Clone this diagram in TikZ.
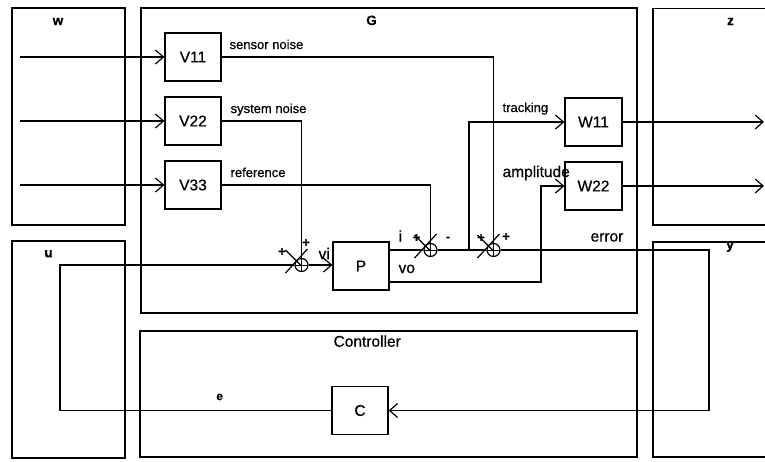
\documentclass[tikz,border=0pt]{standalone}
\usepackage{fontspec}
\setmainfont{Liberation Sans}[FakeBold=0.6]
\usetikzlibrary{arrows.meta,calc}
\begin{document}
\begin{tikzpicture}[x=1pt,y=-1pt,line width=1.2pt,
  frame/.style={draw,line width=1.3pt,anchor=north west,inner sep=0pt,outer sep=0pt},
  block/.style={draw,line width=1.3pt,minimum width=56pt,minimum height=48pt,inner sep=0pt,font=\fontsize{15.5}{16}\selectfont},
  sumj/.style={draw,circle,minimum size=13pt,inner sep=0pt,
    path picture={\draw[line width=1pt] (path picture bounding box.north) -- (path picture bounding box.south)
      (path picture bounding box.west) -- (path picture bounding box.east);}},
  arr/.style={-{Straight Barb[length=8pt,width=14pt]}},
  sig/.style={font=\fontsize{13}{13}\selectfont,inner sep=0pt,anchor=base west},
  bigsig/.style={font=\fontsize{15.5}{16}\selectfont,inner sep=0pt,anchor=base west},
  boxlabel/.style={font=\bfseries\fontsize{13.5}{14}\selectfont,inner sep=0pt,anchor=base},
  signmark/.style={font=\bfseries\fontsize{13}{13}\selectfont,inner sep=0pt}]
\useasboundingbox (0,0) rectangle (765,461);

% frames
\node[frame,minimum width=113pt,minimum height=217pt] (wbox) at (12,8) {};
\node[frame,minimum width=496pt,minimum height=305pt] (Gbox) at (141,8) {};
\node[frame,minimum width=130pt,minimum height=216.5pt] (zbox) at (653,8.5) {};
\node[frame,minimum width=113pt,minimum height=217pt] (ubox) at (12,241) {};
\node[frame,minimum width=497pt,minimum height=126pt] (Cbox) at (140,331) {};
\node[frame,minimum width=130pt,minimum height=215pt] (ybox) at (653,242) {};

% frame labels
\node[boxlabel] (lw) at (58,25) {w};
\node[boxlabel] (lG) at (371.5,25) {G};
\node[boxlabel] (lz) at (730.5,25) {z};
\node[boxlabel] (lu) at (48.5,257.3) {u};
\node[boxlabel] (ly) at (730,249) {y};
\node[bigsig] (lC) at (333,346.7) {Controller};
\node[font=\bfseries\fontsize{12}{12}\selectfont,inner sep=0pt] (le) at (219.7,397) {e};

% blocks
\node[block] (V11) at (193,57) {V11};
\node[block] (V22) at (193,121) {V22};
\node[block] (V33) at (193,185) {V33};
\node[block,minimum width=57pt] (W11) at (593.5,122) {W11};
\node[block,minimum width=57pt] (W22) at (593.5,186) {W22};
\node[block] (P) at (361,266) {P};
\node[block] (C) at (360,410.5) {C};

% summing junctions
\node[sumj] (s1) at (301.5,265) {};
\node[sumj] (s2) at (430.5,250) {};
\node[sumj] (s3) at (493.5,250) {};
\foreach \s in {s1,s2,s3}{
  \draw ([shift={(-16,8)}]\s.center) -- ([shift={(6,-16)}]\s.center)
        ([shift={(-16,-15)}]\s.center) -- ([shift={(0,1)}]\s.center);
}

% sign marks
\node[signmark] (p1a) at (282,252) {+};
\node[signmark] (p1b) at (306,243) {+};
\node[signmark] (p2a) at (416.5,238) {+};
\node[signmark,anchor=base] (m2b) at (448,241) {-};
\node[signmark] (p3a) at (481,238) {+};
\node[signmark] (p3b) at (506,237) {+};

% coordinates
\coordinate (w1) at (20,57);
\coordinate (w2) at (20,121);
\coordinate (w3) at (20,185);
\coordinate (z1) at (764,122);
\coordinate (z2) at (764,186);
\coordinate (tb) at (469,250);
\coordinate (vo) at (541,282);
\coordinate (errc) at (709,250);
\coordinate (ul) at (60,265);

% exogenous inputs
\draw[arr] (w1) -- (V11);
\draw[arr] (w2) -- (V22);
\draw[arr] (w3) -- (V33);

% noise / reference lines
\draw (V11.east) -| (s3);
\draw (V22.east) -| (s1);
\draw (V33.east) -| (s2);

% plant
\draw[arr] (s1.east) -- (P.west |- s1);
\draw (P.east |- s2) -- (s2);
\draw (s2) -- (s3);
\draw[arr] (tb) |- (W11);
\draw[arr] (P.east |- vo) -- (vo) |- (W22);
\draw[arr] (s3.east) -- (errc) |- (C);
\draw (C.west) -| (ul) -- (s1);

% outputs
\draw[arr] (W11) -- (z1);
\draw[arr] (W22) -- (z2);

% signal labels
\node[sig] (t1) at (229,49) {sensor noise};
\node[sig] (t2) at (230,113) {system noise};
\node[sig] (t3) at (230,177) {reference};
\node[sig] (t4) at (502,112) {tracking};
\node[bigsig] (t5) at (502,177) {amplitude};
\node[bigsig] (t6) at (590,241.5) {error};
\node[bigsig] (t7) at (398,241.5) {i};
\node[bigsig] (t8) at (398,273) {vo};
\node[bigsig] (t9) at (318,259) {vi};
\end{tikzpicture}
\end{document}
